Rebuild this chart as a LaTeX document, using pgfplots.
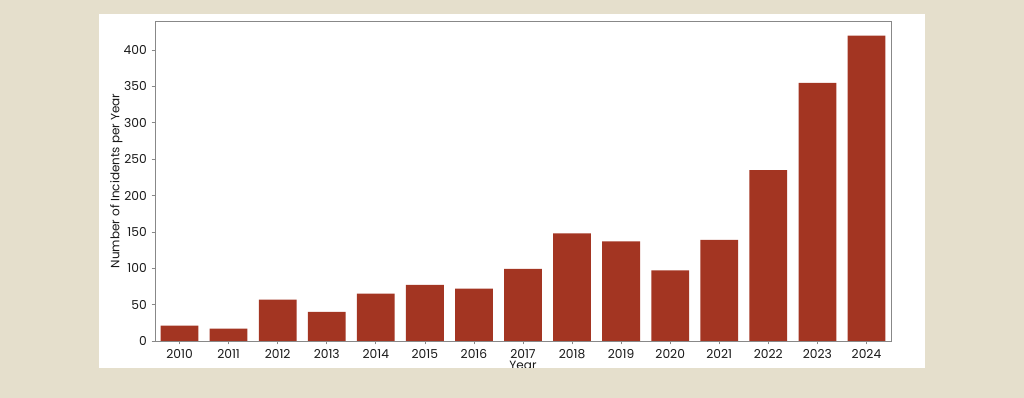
\documentclass[border=0pt]{standalone}
\usepackage{pgfplots}
\pgfplotsset{compat=1.18}
\usepackage{fontspec}
\setmainfont{Poppins}
\definecolor{bg}{HTML}{E5DFCC}
\definecolor{barc}{HTML}{A33522}
\definecolor{framec}{HTML}{888888}
\begin{document}
\begin{tikzpicture}[x=0.75pt,y=0.75pt]
\useasboundingbox (0,0) rectangle (1024,398);
\fill[bg] (0,0) rectangle (1024,398);
\fill[white] (99,30) rectangle (925,384);
\begin{axis}[
  at={(116.25pt,42.75pt)}, anchor=south west,
  scale only axis, width=552pt, height=240pt,
  xmin=-0.5, xmax=14.5, ymin=0, ymax=440,
  ybar, bar width=0.77, bar shift=0pt,
  xtick={0,...,14},
  xticklabels={2010,2011,2012,2013,2014,2015,2016,2017,2018,2019,2020,2021,2022,2023,2024},
  ytick={0,50,...,400},
  tick pos=left, tick align=outside,
  major tick length=2.6pt,
  tick style={framec, line width=0.5pt},
  axis line style={framec, line width=0.7pt},
  /pgf/number format/assume math mode=true,
  ticklabel style={font=\fontsize{9.2}{10}\selectfont, text=black!90},
  xticklabel style={yshift=-0.3pt},
  yticklabel style={xshift=0pt},
  label style={font=\fontsize{9}{10}\selectfont, text=black!90},
  xlabel={Year},
  ylabel={Number of Incidents per Year},
  xlabel style={yshift=5pt},
  ylabel style={yshift=-6pt},
]
\addplot[fill=barc, draw=none] coordinates {
 (0,21) (1,17) (2,57) (3,40) (4,65) (5,77) (6,72) (7,99) (8,148) (9,137) (10,97) (11,139) (12,235) (13,355) (14,420)
};
\end{axis}
\fill[bg] (0,0) rectangle (1024,30);
\end{tikzpicture}
\end{document}
